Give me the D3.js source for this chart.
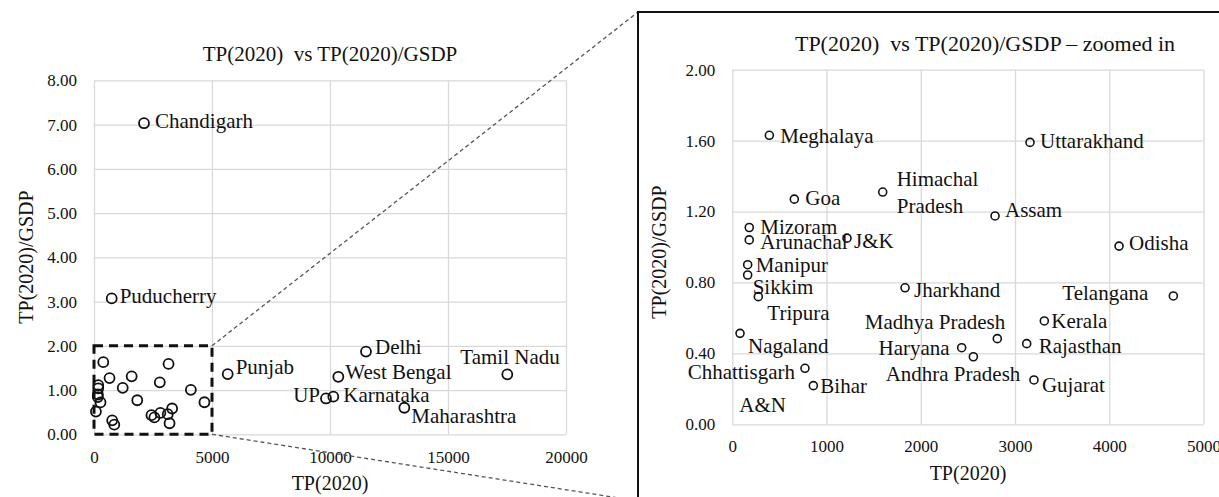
<!DOCTYPE html>
<html>
<head>
<meta charset="utf-8">
<script src="https://cdn.jsdelivr.net/npm/d3@7"></script>
<style>
  html, body { margin: 0; padding: 0; background: #fff; }
  svg { display: block; font-family: "Liberation Serif", "Times New Roman", serif; }
  svg text { font-family: "Liberation Serif", "Times New Roman", serif; }
</style>
</head>
<body>
<svg id="chart" width="1219" height="497"></svg>
<script>
// States with TP(2020) below 5000 and ratio below 2 (shown in both panels)
const smallStates = ["Meghalaya", "Goa", "Himachal Pradesh", "Mizoram", "Arunachal", "J&K",
  "Uttarakhand", "Assam", "Odisha", "Manipur", "Sikkim", "Tripura", "Nagaland",
  "Chhattisgarh", "Bihar", "Jharkhand", "Telangana", "Kerala", "Madhya Pradesh",
  "Rajasthan", "Haryana", "Andhra Pradesh", "Gujarat"];
const smallTP = [393, 658, 1596, 180, 180, 1217, 3159, 2788, 4104, 163, 163, 276, 82,
  771, 860, 1833, 4680, 3311, 2812, 3124, 2434, 2558, 3201];
const smallRatio = [1.63, 1.27, 1.31, 1.11, 1.04, 1.05, 1.59, 1.175, 1.005, 0.90, 0.842, 0.72, 0.513,
  0.316, 0.218, 0.77, 0.724, 0.583, 0.483, 0.455, 0.432, 0.381, 0.25];

// States only visible in the full-range panel
const bigStates = ["Chandigarh", "Puducherry", "Punjab", "Delhi", "West Bengal", "UP",
  "Karnataka", "Maharashtra", "Tamil Nadu"];
const bigTP = [2119, 750, 5665, 11525, 10353, 9830, 10140, 13150, 17513];
const bigRatio = [7.03, 3.07, 1.36, 1.87, 1.30, 0.81, 0.85, 0.60, 1.356];

// A&N is labelled without a visible marker
const labelOnlyName = "A&N";
const labelOnlyTP = 74;
const labelOnlyRatio = 0.109;

// Axis ticks
const leftXTicks = [0, 5000, 10000, 15000, 20000];
const leftYTicks = [0, 1, 2, 3, 4, 5, 6, 7, 8];
const rightXTicks = [0, 1000, 2000, 3000, 4000, 5000];
const rightYTicks = [0, 0.4, 0.8, 1.2, 1.6, 2.0];

// Zoom window drawn on the left panel
const zoomTP = [0, 5000];
const zoomRatio = [0, 2];

// Label placement (pixel offsets from the marker, text anchor)
const leftLabelPos = {
  "Chandigarh": [11, -3, "start"], "Puducherry": [8, -3, "start"], "Punjab": [8, -7, "start"],
  "Delhi": [9, -5, "start"], "West Bengal": [7, -5, "start"], "UP": [-6, -4, "end"],
  "Karnataka": [10, -2, "start"], "Maharashtra": [7, 8, "start"], "Tamil Nadu": [-47, -18, "start"]
};
const rightLabelPos = {
  "Meghalaya": [11, 0, "start"], "Goa": [11, -1, "start"], "Himachal Pradesh": [14, 0, "start"],
  "Mizoram": [11, -1, "start"], "Arunachal": [11, 2, "start"], "J&K": [7, 3, "start"],
  "Uttarakhand": [10, -2, "start"], "Assam": [10, -6, "start"], "Odisha": [10, -3, "start"],
  "Manipur": [8, 0, "start"], "Sikkim": [5, 12, "start"], "Tripura": [9, 16, "start"],
  "Nagaland": [8, 12, "start"], "Chhattisgarh": [-10, 3, "end"], "Bihar": [7, 0, "start"],
  "Jharkhand": [9, 2, "start"], "Telangana": [-25, -3, "end"], "Kerala": [7, 0, "start"],
  "Madhya Pradesh": [8, -17, "end"], "Rajasthan": [12, 2, "start"], "Haryana": [-12, 0, "end"],
  "Andhra Pradesh": [47, 17, "end"], "Gujarat": [8, 5, "start"]
};

const svg = d3.select("#chart");
const gridColor = "#d9d9d9";
const textColor = "#111";
const serif = '"Liberation Serif", "Times New Roman", serif';

// ---------- Left panel: full range ----------
const lx = d3.scaleLinear().domain([0, 20000]).range([94, 566]);
const ly = d3.scaleLinear().domain([0, 8]).range([434.3, 80.3]);

function styleAxis(g) {
  g.attr("font-family", serif).attr("font-size", 17);
  g.select(".domain").remove();
  g.selectAll(".tick line").attr("stroke", gridColor).attr("stroke-width", 1.3);
  g.selectAll(".tick text").attr("fill", textColor)
    .style("font-size", "17px").style("font-family", serif);
}

svg.append("g").attr("transform", `translate(0,${ly(0)})`)
  .call(d3.axisBottom(lx).tickValues(leftXTicks).tickFormat(d3.format("d"))
    .tickSize(-(ly(0) - ly(8))).tickPadding(17))
  .call(styleAxis);
svg.append("g").attr("transform", `translate(${lx(0)},0)`)
  .call(d3.axisLeft(ly).tickValues(leftYTicks).tickFormat(d3.format(".2f"))
    .tickSize(-(lx(20000) - lx(0))).tickPadding(17))
  .call(styleAxis);

svg.append("text").attr("x", (lx(0) + lx(20000)) / 2).attr("y", 54).attr("dy", "0.35em")
  .attr("text-anchor", "middle").attr("fill", textColor).style("font-size", "21px")
  .text("TP(2020)\u00a0 vs TP(2020)/GSDP");
svg.append("text").attr("x", 330).attr("y", 483).attr("dy", "0.35em")
  .attr("text-anchor", "middle").attr("fill", textColor).style("font-size", "20px").text("TP(2020)");
svg.append("text").attr("transform", "translate(26,257) rotate(-90)").attr("dy", "0.35em")
  .attr("text-anchor", "middle").attr("fill", textColor).style("font-size", "20px").text("TP(2020)/GSDP");

// zoom window on left panel
svg.append("rect")
  .attr("x", lx(zoomTP[0])).attr("y", ly(zoomRatio[1]))
  .attr("width", lx(zoomTP[1]) - lx(zoomTP[0])).attr("height", ly(zoomRatio[0]) - ly(zoomRatio[1]))
  .attr("fill", "none").attr("stroke", "#111").attr("stroke-width", 3).attr("stroke-dasharray", "9,6");

const leftAll = smallStates.map((s, i) => ({ name: s, tp: smallTP[i], r: smallRatio[i] }))
  .concat(bigStates.map((s, i) => ({ name: s, tp: bigTP[i], r: bigRatio[i] })));

svg.append("g").selectAll("circle").data(leftAll).join("circle")
  .attr("cx", d => lx(d.tp)).attr("cy", d => ly(d.r)).attr("r", 5)
  .attr("fill", "none").attr("stroke", "#111").attr("stroke-width", 1.8);

svg.append("g").selectAll("text").data(leftAll.filter(d => leftLabelPos[d.name])).join("text")
  .attr("x", d => lx(d.tp) + leftLabelPos[d.name][0])
  .attr("y", d => ly(d.r) + leftLabelPos[d.name][1])
  .attr("dy", "0.35em").attr("text-anchor", d => leftLabelPos[d.name][2])
  .attr("fill", textColor).style("font-size", "21px").text(d => d.name);

// ---------- Connectors and zoom frame ----------
const boxX = 638, boxY = 12;
svg.append("line").attr("x1", lx(zoomTP[1])).attr("y1", ly(zoomRatio[1]))
  .attr("x2", boxX).attr("y2", boxY)
  .attr("stroke", "#555").attr("stroke-width", 1.3).attr("stroke-dasharray", "4,3");
svg.append("line").attr("x1", lx(zoomTP[1])).attr("y1", ly(zoomRatio[0]))
  .attr("x2", boxX).attr("y2", 501)
  .attr("stroke", "#555").attr("stroke-width", 1.3).attr("stroke-dasharray", "4,3");
svg.append("rect").attr("x", boxX).attr("y", boxY).attr("width", 700).attr("height", 600)
  .attr("fill", "#fff").attr("stroke", "#111").attr("stroke-width", 2);

// ---------- Right panel: zoomed in ----------
const rx = d3.scaleLinear().domain([0, 5000]).range([732.3, 1203.5]);
const ry = d3.scaleLinear().domain([0, 2]).range([424.3, 69.7]);

svg.append("g").attr("transform", `translate(0,${ry(0)})`)
  .call(d3.axisBottom(rx).tickValues(rightXTicks).tickFormat(d3.format("d"))
    .tickSize(-(ry(0) - ry(2))).tickPadding(16))
  .call(styleAxis);
svg.append("g").attr("transform", `translate(${rx(0)},0)`)
  .call(d3.axisLeft(ry).tickValues(rightYTicks).tickFormat(d3.format(".2f"))
    .tickSize(-(rx(5000) - rx(0))).tickPadding(17))
  .call(styleAxis);

svg.append("text").attr("x", 985).attr("y", 43).attr("dy", "0.35em")
  .attr("text-anchor", "middle").attr("fill", textColor).style("font-size", "22px")
  .text("TP(2020)\u00a0 vs TP(2020)/GSDP \u2013 zoomed in");
svg.append("text").attr("x", 968).attr("y", 473).attr("dy", "0.35em")
  .attr("text-anchor", "middle").attr("fill", textColor).style("font-size", "20px").text("TP(2020)");
svg.append("text").attr("transform", "translate(659,252) rotate(-90)").attr("dy", "0.35em")
  .attr("text-anchor", "middle").attr("fill", textColor).style("font-size", "20px").text("TP(2020)/GSDP");

const rightAll = smallStates.map((s, i) => ({ name: s, tp: smallTP[i], r: smallRatio[i] }));

svg.append("g").selectAll("circle").data(rightAll).join("circle")
  .attr("cx", d => rx(d.tp)).attr("cy", d => ry(d.r)).attr("r", 4)
  .attr("fill", "none").attr("stroke", "#111").attr("stroke-width", 1.6);

const rLabels = svg.append("g").selectAll("text").data(rightAll).join("text")
  .attr("x", d => rx(d.tp) + rightLabelPos[d.name][0])
  .attr("y", d => ry(d.r) + rightLabelPos[d.name][1])
  .attr("text-anchor", d => rightLabelPos[d.name][2])
  .attr("fill", textColor).style("font-size", "21px");
rLabels.each(function (d) {
  const t = d3.select(this);
  if (d.name === "Himachal Pradesh") {
    t.append("tspan").attr("x", rx(d.tp) + rightLabelPos[d.name][0]).attr("dy", "-0.3em").text("Himachal");
    t.append("tspan").attr("x", rx(d.tp) + rightLabelPos[d.name][0]).attr("dy", "1.3em").text("Pradesh");
  } else {
    t.attr("dy", "0.35em").text(d.name);
  }
});

svg.append("text").attr("x", rx(labelOnlyTP)).attr("y", ry(labelOnlyRatio)).attr("dy", "0.35em")
  .attr("fill", textColor).style("font-size", "21px").text(labelOnlyName);
</script>
</body>
</html>
